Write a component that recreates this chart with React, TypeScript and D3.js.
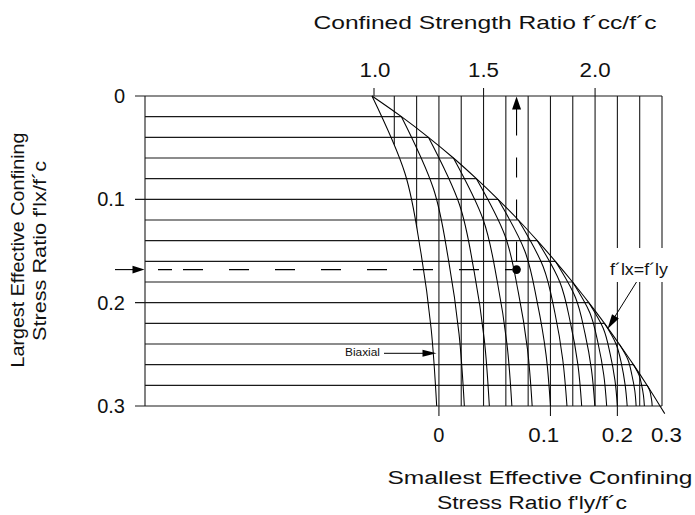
import React from "react";
import * as d3 from "d3";

// ---------- data ----------
const ratioTickValues = [1.0, 1.5, 2.0];
const ratioTickLabels = ["1.0", "1.5", "2.0"];
const ratioGridValues = [1.1, 1.2, 1.3, 1.4, 1.5, 1.6, 1.7, 1.8, 1.9, 2.0, 2.1, 2.2];
const ratioDomain = [1.0, 2.3];

const flxTickValues = [0, 0.1, 0.2, 0.3];
const flxTickLabels = ["0", "0.1", "0.2", "0.3"];
const flxGridValues = [0, 0.02, 0.04, 0.06, 0.08, 0.1, 0.12, 0.14, 0.16, 0.18, 0.2, 0.22, 0.24, 0.26, 0.28, 0.3];

// envelope f'lx = f'ly : confined strength ratio at each grid f'lx
const envelopeRatio = [1.0, 1.132, 1.253, 1.365, 1.468, 1.565, 1.656, 1.741, 1.822, 1.899, 1.972, 2.042, 2.108, 2.172, 2.233, 2.291];

// one curve per smallest confining ratio f'ly
const flyValues = [0, 0.02, 0.04, 0.06, 0.08, 0.1, 0.12, 0.14, 0.16, 0.18, 0.2, 0.22, 0.24, 0.26, 0.28];
// sample positions along each curve, from f'lx = f'ly (0) to f'lx = 0.3 (1)
const curveFractions = [0, 0.25, 0.5, 0.75, 1];
const curveRatios = [
  [1.0, 1.148, 1.218, 1.265, 1.29],
  [1.132, 1.276, 1.344, 1.39, 1.414],
  [1.253, 1.392, 1.458, 1.503, 1.526],
  [1.365, 1.499, 1.562, 1.605, 1.627],
  [1.468, 1.596, 1.656, 1.697, 1.718],
  [1.565, 1.685, 1.741, 1.78, 1.8],
  [1.656, 1.767, 1.82, 1.855, 1.874],
  [1.741, 1.842, 1.89, 1.923, 1.94],
  [1.822, 1.912, 1.955, 1.984, 1.999],
  [1.899, 1.977, 2.014, 2.039, 2.052],
  [1.972, 2.037, 2.068, 2.089, 2.1],
  [2.042, 2.094, 2.119, 2.135, 2.144],
  [2.108, 2.147, 2.165, 2.178, 2.184],
  [2.172, 2.197, 2.209, 2.217, 2.221],
  [2.233, 2.245, 2.25, 2.254, 2.256],
];

const flyTickLabels = ["0", "0.1", "0.2", "0.3"];
const flyTickLabelRatios = [1.3, 1.77, 2.1, 2.32];
const flyTickMarkRatios = [1.3, 1.8, 2.1];

const exampleFlx = 0.168;
const exampleRatio = 1.648;
const biaxialArrowFlx = 0.249;

// ---------- layout ----------
const W = 695;
const H = 515;
const FONT = "'Liberation Sans', Arial, Helvetica, sans-serif";
const LEFT = 145;
const TOP = 96;
const BOTTOM = 406;

function arrowHead(tx: number, ty: number, dx: number, dy: number, len: number, half: number) {
  const m = Math.hypot(dx, dy);
  const ux = dx / m;
  const uy = dy / m;
  const bx = tx - ux * len;
  const by = ty - uy * len;
  const nx = -uy;
  const ny = ux;
  return `${tx},${ty} ${bx + nx * half},${by + ny * half} ${bx - nx * half},${by - ny * half}`;
}

export default function App() {
  const x = d3.scaleLinear().domain(ratioDomain).range([372, 662]);
  const y = d3.scaleLinear().domain([0, 0.3]).range([TOP, BOTTOM]);
  const line = d3
    .line<[number, number]>()
    .x((d) => x(d[0]))
    .y((d) => y(d[1]))
    .curve(d3.curveMonotoneY);

  const curvePts = flyValues.map((fly, k) =>
    curveFractions.map((f, i) => [curveRatios[k][i], fly + f * (0.3 - fly)] as [number, number])
  );
  const envPts = flxGridValues.map((f, i) => [envelopeRatio[i], f] as [number, number]);

  const clipD = `${line(curvePts[0])}L700,${BOTTOM}L700,80L${x(1)},80Z`;

  // envelope extension below the frame
  const e1 = envPts[envPts.length - 2];
  const e2 = envPts[envPts.length - 1];
  const ex1 = x(e1[0]), ey1 = y(e1[1]), ex2 = x(e2[0]), ey2 = y(e2[1]);
  const el = Math.hypot(ex2 - ex1, ey2 - ey1);
  const extX = ex2 + ((ex2 - ex1) / el) * 9;
  const extY = ey2 + ((ey2 - ey1) / el) * 9;

  const stroke = "#1a1a1a";
  const exX = x(exampleRatio);
  const exY = y(exampleFlx);
  const bY = y(biaxialArrowFlx);

  return (
    <svg width={W} height={H} viewBox={`0 0 ${W} ${H}`} style={{ display: "block", position: "absolute", left: 0, top: 0, background: "#fff" }}>
      <defs>
        <clipPath id="rightOfBiaxial">
          <path d={clipD} />
        </clipPath>
      </defs>
      <rect x={0} y={0} width={W} height={H} fill="#fff" />

      {/* horizontal grid lines (up to the envelope) */}
      {flxGridValues.map((f, i) => {
        const isTick = flxTickValues.some((t) => Math.abs(t - f) < 1e-9);
        const x1 = isTick ? LEFT - 10 : LEFT;
        const x2 = i === 0 || i === flxGridValues.length - 1 ? x(ratioDomain[1]) : x(envelopeRatio[i]);
        return <line key={"h" + i} x1={x1} x2={x2} y1={y(f)} y2={y(f)} stroke={stroke} strokeWidth={1.1} />;
      })}

      {/* vertical grid lines (right of the biaxial curve) */}
      <g clipPath="url(#rightOfBiaxial)">
        {ratioGridValues.map((r, i) => (
          <line key={"v" + i} x1={x(r)} x2={x(r)} y1={TOP} y2={BOTTOM} stroke={stroke} strokeWidth={1.1} />
        ))}
      </g>
      {/* frame */}
      <line x1={LEFT} x2={LEFT} y1={TOP} y2={BOTTOM} stroke={stroke} strokeWidth={1.1} />
      <line x1={x(ratioDomain[1])} x2={x(ratioDomain[1])} y1={TOP} y2={BOTTOM} stroke={stroke} strokeWidth={1.1} />

      {/* top ticks */}
      {ratioTickValues.map((r, i) => (
        <g key={"tt" + i}>
          <line x1={x(r) + (i === 0 ? 2 : 0)} x2={x(r) + (i === 0 ? 2 : 0)} y1={TOP - 8} y2={TOP} stroke={stroke} strokeWidth={1.1} />
          <text x={x(r) + (i === 0 ? 3 : 0)} y={77} textAnchor="middle" fontFamily={FONT} fontSize={20} textLength={31} lengthAdjust="spacingAndGlyphs" fill="#111">
            {ratioTickLabels[i]}
          </text>
        </g>
      ))}

      {/* left tick labels */}
      {flxTickValues.map((f, i) => (
        <text key={"lt" + i} x={125} y={y(f) + 7} textAnchor="end" fontFamily={FONT} fontSize={20} fill="#111">
          {flxTickLabels[i]}
        </text>
      ))}

      {/* bottom ticks + labels */}
      {flyTickMarkRatios.map((r, i) => (
        <line key={"bm" + i} x1={x(r)} x2={x(r)} y1={BOTTOM} y2={BOTTOM + 10} stroke={stroke} strokeWidth={1.1} />
      ))}
      {flyTickLabelRatios.map((r, i) => (
        <text key={"bt" + i} x={x(r)} y={442} textAnchor="middle" fontFamily={FONT} fontSize={20} textLength={i === 0 ? undefined : 31} lengthAdjust="spacingAndGlyphs" fill="#111">
          {flyTickLabels[i]}
        </text>
      ))}

      {/* family of curves */}
      {curvePts.map((pts, k) => (
        <path key={"c" + k} d={line(pts) || ""} fill="none" stroke="#000" strokeWidth={1.05} />
      ))}
      {/* envelope f'lx = f'ly */}
      <path d={line(envPts) || ""} fill="none" stroke="#000" strokeWidth={1.05} />
      <line x1={ex2} y1={ey2} x2={extX} y2={extY} stroke="#000" strokeWidth={1.05} />

      {/* example: horizontal dashed line with arrow */}
      <line x1={115} x2={LEFT - 10} y1={exY} y2={exY} stroke="#000" strokeWidth={1.1} />
      <polygon points={arrowHead(LEFT - 0.5, exY, 1, 0, 12, 3.8)} fill="#000" />
      <line
        x1={158}
        x2={exX - 4}
        y1={exY}
        y2={exY}
        stroke="#000"
        strokeWidth={1.1}
        strokeDasharray="14 11 20 26 20 26 20 26 20 26 20 26 20 26 20 26 20 26"
      />
      <circle cx={exX} cy={exY} r={4.3} fill="#000" />
      {/* vertical dashed line up to the strength ratio */}
      <line x1={exX} x2={exX} y1={exY - 8} y2={134} stroke="#000" strokeWidth={1.1} strokeDasharray="20 22" />
      <line x1={exX} x2={exX} y1={134} y2={108} stroke="#000" strokeWidth={1.1} />
      <polygon points={arrowHead(exX, TOP + 0.5, 0, -1, 13, 4.5)} fill="#000" />

      {/* Biaxial label */}
      <text x={345} y={356} fontFamily={FONT} fontSize={10} textLength={35} lengthAdjust="spacingAndGlyphs" fill="#111">
        Biaxial
      </text>
      <line x1={384} x2={424} y1={bY} y2={bY} stroke="#000" strokeWidth={1} />
      <polygon points={arrowHead(436.5, bY, 1, 0, 14, 3.5)} fill="#000" />

      {/* f'lx = f'ly label */}
      <rect x={606} y={248} width={66} height={34} fill="#fff" />
      <text x={610} y={275} fontFamily={FONT} fontSize={17} textLength={58} lengthAdjust="spacingAndGlyphs" fill="#111">
        f´lx=f´ly
      </text>
      <line x1={636.5} y1={282} x2={614} y2={318} stroke="#000" strokeWidth={1} />
      <polygon points={arrowHead(607.5, 329, -22.5, 36, 15, 4)} fill="#000" />

      {/* titles */}
      <text x={485} y={29} textAnchor="middle" fontFamily={FONT} fontSize={18.5} textLength={343} lengthAdjust="spacingAndGlyphs" fill="#111">
        Confined Strength Ratio f´cc/f´c
      </text>
      <text x={540} y={484} textAnchor="middle" fontFamily={FONT} fontSize={18} textLength={305} lengthAdjust="spacingAndGlyphs" fill="#111">
        Smallest Effective Confining
      </text>
      <text x={532} y={509} textAnchor="middle" fontFamily={FONT} fontSize={18} textLength={190} lengthAdjust="spacingAndGlyphs" fill="#111">
        Stress Ratio f'ly/f´c
      </text>
      <text transform="translate(24,250) rotate(-90)" textAnchor="middle" fontFamily={FONT} fontSize={19} textLength={235} lengthAdjust="spacingAndGlyphs" fill="#111">
        Largest Effective Confining
      </text>
      <text transform="translate(46,251) rotate(-90)" textAnchor="middle" fontFamily={FONT} fontSize={19} textLength={180} lengthAdjust="spacingAndGlyphs" fill="#111">
        Stress Ratio f'lx/f´c
      </text>
    </svg>
  );
}
